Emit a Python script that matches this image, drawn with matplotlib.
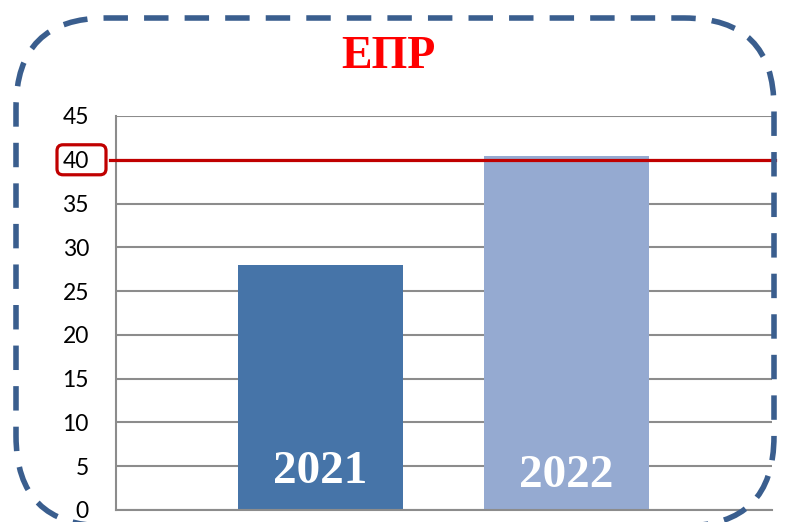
import matplotlib
matplotlib.use("Agg")
import matplotlib.pyplot as plt
from matplotlib.patches import FancyBboxPatch

categories = ["2021", "2022"]
values = [28.0, 40.4]
bar_colors = ["#4674A8", "#95AAD1"]
threshold = 40
yticks = [0, 5, 10, 15, 20, 25, 30, 35, 40, 45]
title = "ЕПР"

W, H = 790, 522
fig = plt.figure(figsize=(W / 100, H / 100), dpi=100)
fig.patch.set_facecolor("white")

ax = fig.add_axes([116 / W, 12 / H, 656 / W, 394 / H])
x = list(range(len(categories)))
ax.bar(x, values, width=0.67, color=bar_colors, zorder=2)
ax.set_xlim(-0.831, 1.835)
ax.set_ylim(0, 45)
ax.set_yticks(yticks)
ax.set_yticklabels([str(t) for t in yticks], fontsize=16.5, family="Lato")
ax.tick_params(axis="y", length=0, pad=19.5)
ax.set_xticks([])
ax.grid(axis="y", color="#8C8C8C", lw=1.5, zorder=0)
for s in ["top", "right"]:
    ax.spines[s].set_visible(False)
ax.spines["left"].set_color("#8C8C8C")
ax.spines["left"].set_linewidth(1.5)
ax.spines["bottom"].set_color("#8C8C8C")
ax.spines["bottom"].set_linewidth(1.5)
ax.set_axisbelow(True)

# threshold line
ax.axhline(threshold, xmin=-0.009, xmax=1.005, color="#C00000", lw=2.3,
           clip_on=False, zorder=3)

# year labels inside bars
label_y = [4.34, 3.9]
for xi, cat, ly in zip(x, categories, label_y):
    ax.text(xi, ly, cat, ha="center", va="center", color="white",
            fontsize=34, fontweight="bold", family="Liberation Serif", zorder=4)

# title
fig.text(388 / W, 1 - 57 / H, title, ha="center", va="center", color="#FF0000",
         fontsize=33, fontweight="bold", family="Liberation Serif")

# overlay for decorations in pixel coordinates (origin bottom-left)
ov = fig.add_axes([0, 0, 1, 1], facecolor="none")
ov.set_xlim(0, W)
ov.set_ylim(0, H)
ov.axis("off")

# highlight box around the threshold tick label
ty = ax.transData.transform((0, threshold))[1]
box = FancyBboxPatch((57, ty - 15), 49, 30,
                     boxstyle="round,pad=0,rounding_size=6",
                     fc="none", ec="#C00000", lw=2.3)
ov.add_patch(box)

# dashed rounded frame
frame = FancyBboxPatch((16, H - 526), 758, 508,
                       boxstyle="round,pad=0,rounding_size=90",
                       fc="none", ec="#3A5E8E", lw=4.0,
                       linestyle=(0, (4.4, 2.9)), clip_on=False)
ov.add_patch(frame)

fig.savefig("out.png", dpi=100)
